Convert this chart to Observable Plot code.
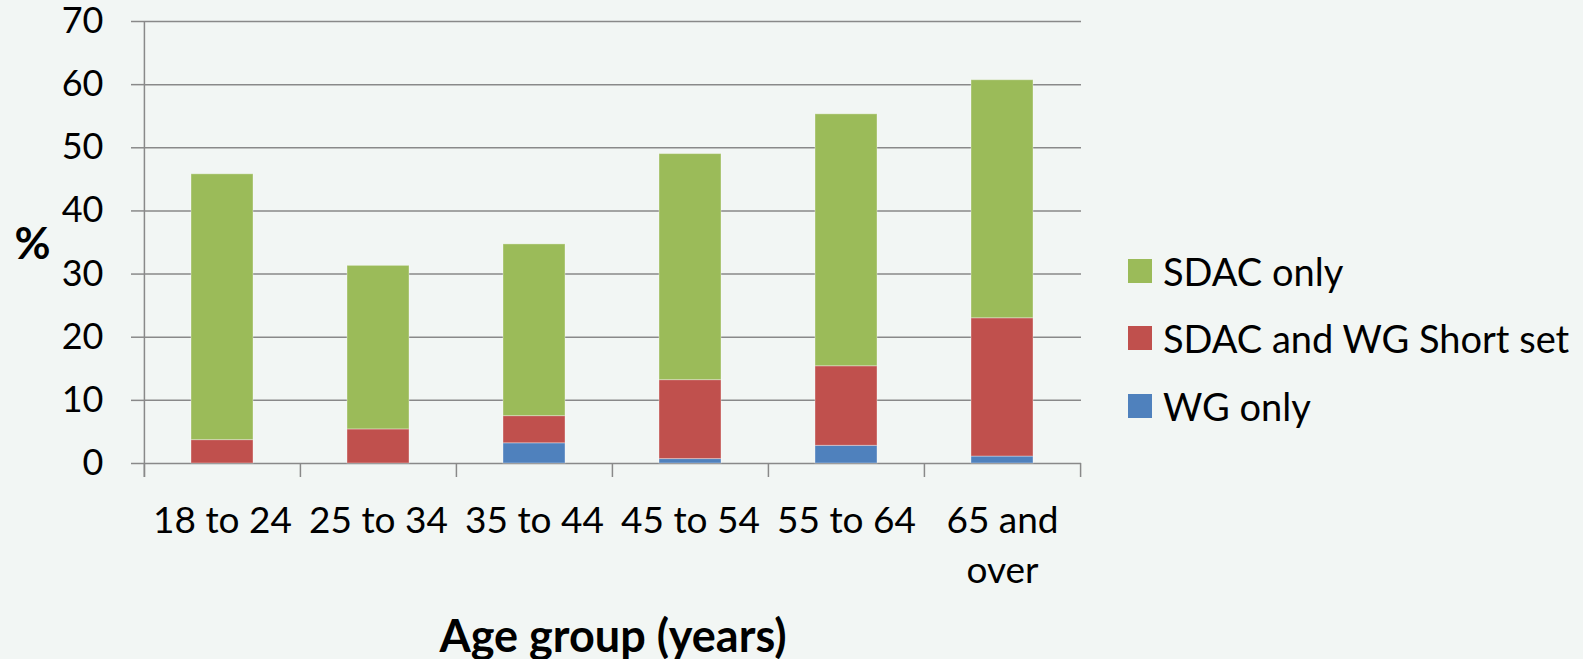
<!DOCTYPE html>
<html>
<head>
<meta charset="utf-8">
<script src="https://cdn.jsdelivr.net/npm/d3@7"></script>
<script src="https://cdn.jsdelivr.net/npm/@observablehq/plot@0.6"></script>
<style>
  html, body { margin: 0; padding: 0; background: #f2f6f4; }
  #chart { position: relative; width: 1583px; height: 659px; font-family: Lato, "Open Sans", sans-serif; color: #000; }
  #chart svg { position: absolute; left: 0; top: 0; overflow: visible; }
  .legend { position: absolute; left: 1128px; top: 237px; }
  .legend .row { display: flex; align-items: center; height: 67.5px; font-size: 38px; white-space: nowrap; }
  .legend .sw { width: 24px; height: 24px; margin-right: 11px; flex: none; }
</style>
</head>
<body>
<div id="chart"></div>
<script>
// Share of people identified with disability, by age group and identification method
const ageGroups = ["18 to 24", "25 to 34", "35 to 44", "45 to 54", "55 to 64", "65 and over"];
const wgOnly    = [0.0, 0.0, 3.2, 0.7, 2.8, 1.1];
const sdacAndWg = [3.7, 5.4, 4.3, 12.5, 12.6, 21.9];
const sdacOnly  = [42.1, 25.9, 27.2, 35.8, 39.9, 37.7];

// Stacked from the bottom up in this order
const seriesNames  = ["WG only", "SDAC and WG Short set", "SDAC only"];
const seriesValues = [wgOnly, sdacAndWg, sdacOnly];
const seriesColors = ["#4f81bd", "#c0504d", "#9bbb59"];

const yTicks = [0, 10, 20, 30, 40, 50, 60, 70];
const xTitle = "Age group (years)";
const yTitle = "%";

const rows = seriesNames.flatMap((name, s) =>
  ageGroups.map((age, i) => ({ age, series: name, value: seriesValues[s][i] }))
);

const W = 1583, H = 659;
const margin = { top: 21, right: 502, bottom: 196, left: 144 };
const step = (W - margin.left - margin.right) / ageGroups.length;
const frameHeight = H - margin.top - margin.bottom;
const gridColor = "#898989";

const plot = Plot.plot({
  width: W,
  height: H,
  marginTop: margin.top,
  marginRight: margin.right,
  marginBottom: margin.bottom,
  marginLeft: margin.left,
  style: { background: "transparent", fontFamily: "Lato, 'Open Sans', sans-serif", color: "#000", overflow: "visible" },
  x: { domain: ageGroups, paddingInner: 0.6, paddingOuter: 0.3, align: 0.5 },
  y: { domain: [0, 70] },
  color: { domain: seriesNames, range: seriesColors },
  marks: [
    // horizontal gridlines
    Plot.ruleY(yTicks, { stroke: gridColor, strokeWidth: 1.5 }),
    // category boundary ticks below the baseline
    Plot.ruleX(ageGroups, { x: d => d, dx: -step / 2, insetTop: frameHeight, insetBottom: -14, stroke: gridColor, strokeWidth: 1.5 }),
    Plot.ruleX([ageGroups[ageGroups.length - 1]], { x: d => d, dx: step / 2, insetTop: frameHeight, insetBottom: -14, stroke: gridColor, strokeWidth: 1.5 }),
    // vertical value axis line
    Plot.ruleX([ageGroups[0]], { x: d => d, dx: -step / 2, insetBottom: -14, stroke: gridColor, strokeWidth: 1.5 }),
    Plot.barY(rows, {
      x: "age", y: "value", fill: "series", order: seriesNames,
      stroke: "#ffffff", strokeOpacity: 0.35, strokeWidth: 1
    }),
    Plot.axisY({
      ticks: yTicks, tickSize: 13, tickPadding: 28, fontSize: 36,
      stroke: gridColor, strokeWidth: 1.5, fill: "#000", label: null
    }),
    Plot.axisX({
      tickSize: 0, tickPadding: 34, fontSize: 37, lineHeight: 1.35, fill: "#000", label: null,
      tickFormat: d => d.replace(" and ", " and\n")
    }),
    Plot.text([yTitle], { frameAnchor: "left", textAnchor: "middle", dx: -112, dy: 2, fontSize: 44, fontWeight: "bold", fill: "#000" }),
    Plot.text([xTitle], { frameAnchor: "bottom", textAnchor: "middle", lineAnchor: "bottom", dy: 188, fontSize: 45, fontWeight: "bold", fill: "#000" })
  ]
});

const chart = document.getElementById("chart");
chart.appendChild(plot);

// Legend, listed top to bottom as the stack reads
const legend = document.createElement("div");
legend.className = "legend";
[...seriesNames].reverse().forEach(name => {
  const row = document.createElement("div");
  row.className = "row";
  const sw = document.createElement("span");
  sw.className = "sw";
  sw.style.background = seriesColors[seriesNames.indexOf(name)];
  const label = document.createElement("span");
  label.textContent = name;
  row.append(sw, label);
  legend.appendChild(row);
});
chart.appendChild(legend);
</script>
</body>
</html>
